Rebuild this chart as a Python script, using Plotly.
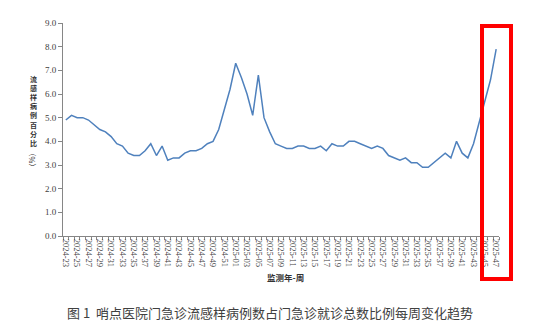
import plotly.graph_objects as go

weeks = [f"2024-{w:02d}" for w in range(23, 53)] + [f"2025-{w:02d}" for w in range(1, 48)]

ili_pct = [
    4.9, 5.1, 5.0, 5.0, 4.9, 4.7, 4.5, 4.4, 4.2, 3.9,
    3.8, 3.5, 3.4, 3.4, 3.6, 3.9, 3.4, 3.8, 3.2, 3.3,
    3.3, 3.5, 3.6, 3.6, 3.7, 3.9, 4.0, 4.5, 5.4, 6.2,
    7.3, 6.7, 6.0, 5.1, 6.8, 5.0, 4.4, 3.9, 3.8, 3.7,
    3.7, 3.8, 3.8, 3.7, 3.7, 3.8, 3.6, 3.9, 3.8, 3.8,
    4.0, 4.0, 3.9, 3.8, 3.7, 3.8, 3.7, 3.4, 3.3, 3.2,
    3.3, 3.1, 3.1, 2.9, 2.9, 3.1, 3.3, 3.5, 3.3, 4.0,
    3.5, 3.3, 3.9, 4.8, 5.7, 6.6, 7.9,
]

tick_text = [w if i % 2 == 0 else "" for i, w in enumerate(weeks)]
y_ticks = [0, 1, 2, 3, 4, 5, 6, 7, 8, 9]
y_title_chars = list("流感样病例百分比")

W, H = 534, 333
ML, MR, MT, MB = 63, 35, 23, 97
PW, PH = W - ML - MR, H - MT - MB


def px_x(x):
    return (x - ML) / PW


def px_y(y):
    return (H - MB - y) / PH


fig = go.Figure()
fig.add_trace(go.Scatter(
    x=weeks, y=ili_pct, mode="lines",
    line=dict(color="#4F81BD", width=1.5),
    hoverinfo="x+y", showlegend=False,
))

axis_col = "#868686"
tick_font = dict(family="Liberation Serif, Times New Roman, serif", size=9, color="#404040")

fig.update_layout(
    width=W, height=H,
    margin=dict(l=ML, r=MR, t=MT, b=MB),
    paper_bgcolor="white", plot_bgcolor="white",
    xaxis=dict(
        type="category", categoryorder="array", categoryarray=weeks,
        tickmode="array", tickvals=weeks, ticktext=tick_text,
        tickson="boundaries", ticks="outside", ticklen=3, tickcolor=axis_col,
        tickangle=90, tickfont=dict(family=tick_font["family"], size=8.5, color="#404040"),
        showline=True, linecolor=axis_col, linewidth=1,
        showgrid=False, zeroline=False,
        range=[-0.5, len(weeks) - 0.5],
    ),
    yaxis=dict(
        range=[0, 9], tickmode="array", tickvals=y_ticks,
        ticktext=[f"{v:.1f}" for v in y_ticks],
        ticks="outside", ticklen=4, tickcolor=axis_col,
        tickfont=tick_font,
        showline=True, linecolor=axis_col, linewidth=1,
        showgrid=False, zeroline=False,
    ),
)

ann = []
# vertical y-axis title, characters stacked
ann.append(dict(
    text="<b>" + "<br>".join(y_title_chars) + "</b>", xref="paper", yref="paper",
    x=px_x(33), y=px_y(111),
    xanchor="center", yanchor="middle", showarrow=False,
    borderpad=0,
    font=dict(family="Noto Sans CJK SC", size=7, color="#333333"),
))
ann.append(dict(
    text="（%）", xref="paper", yref="paper",
    x=px_x(33), y=px_y(160), textangle=90,
    xanchor="center", yanchor="middle", showarrow=False,
    borderpad=0,
    font=dict(family="Noto Sans CJK SC", size=7.5, color="#333333"),
))
# x-axis title
ann.append(dict(
    text="<b>监测年-周</b>", xref="paper", yref="paper",
    x=px_x(285), y=px_y(277),
    xanchor="center", yanchor="middle", showarrow=False,
    font=dict(family="Noto Sans CJK SC", size=8.5, color="#333333"),
))
# caption
ann.append(dict(
    text="图 1  哨点医院门急诊流感样病例数占门急诊就诊总数比例每周变化趋势",
    xref="paper", yref="paper",
    x=px_x(270), y=px_y(312),
    xanchor="center", yanchor="middle", showarrow=False,
    font=dict(family="Noto Sans CJK SC", size=13, color="#404040"),
))
fig.update_layout(annotations=ann)

fig.add_shape(
    type="rect", xref="paper", yref="paper",
    x0=px_x(482), x1=px_x(511), y0=px_y(279), y1=px_y(26),
    line=dict(color="#FF0000", width=4), fillcolor="rgba(0,0,0,0)",
)

fig.write_html("out.html")
